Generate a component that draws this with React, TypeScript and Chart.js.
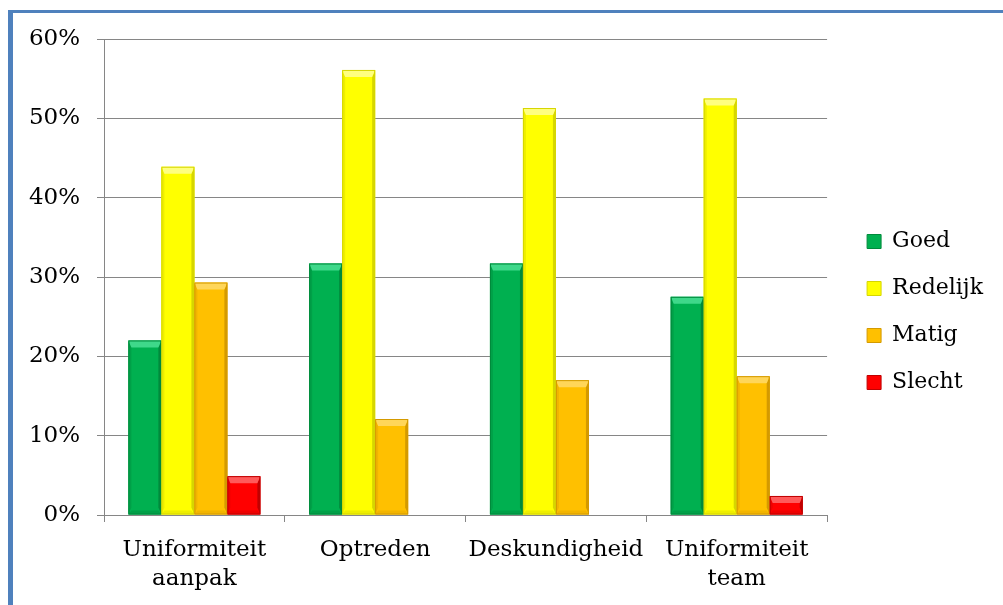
import React, { useEffect, useRef } from "react";
import { Chart, registerables } from "chart.js";

Chart.register(...registerables);

const categories: (string | string[])[] = [
  ["Uniformiteit", "aanpak"],
  "Optreden",
  "Deskundigheid",
  ["Uniformiteit", "team"],
];

const seriesNames = ["Goed", "Redelijk", "Matig", "Slecht"];

const goed = [22.0, 31.7, 31.7, 27.5];
const redelijk = [43.9, 56.1, 51.3, 52.5];
const matig = [29.3, 12.1, 17.0, 17.5];
const slecht = [4.9, 0, 0, 2.4];

const yTicks = [0, 10, 20, 30, 40, 50, 60];

const palettes = [
  { base: "#00B050", light: "#3FD88A", dark: "#008A3C", side: "#00A048" },
  { base: "#FFFF00", light: "#FFFF80", dark: "#D6D600", side: "#EEEE00" },
  { base: "#FFC000", light: "#FFD659", dark: "#D49A00", side: "#F2B400" },
  { base: "#FF0000", light: "#FF5A5A", dark: "#C00000", side: "#EE0000" },
];

const FONT = "'DejaVu Serif', serif";
const GRID = "#868686";

const legendShiftPlugin = {
  id: "legendShift",
  afterLayout(chart: any) {
    const l = chart.legend;
    if (!l) return;
    l.left += 15;
    l.right += 15;
    l.top -= 10;
    l.bottom -= 10;
  },
};

const bevelPlugin = {
  id: "bevel",
  afterDatasetsDraw(chart: any) {
    const ctx = chart.ctx;
    chart.data.datasets.forEach((_ds: any, di: number) => {
      const meta = chart.getDatasetMeta(di);
      if (meta.hidden) return;
      const pal = palettes[di];
      meta.data.forEach((bar: any) => {
        const { x, y, base, width } = bar.getProps(["x", "y", "base", "width"], true);
        const left = x - width / 2;
        const right = x + width / 2;
        const top = Math.min(y, base);
        const bottom = Math.max(y, base);
        const h = bottom - top;
        if (h < 1) return;
        const b = Math.min(7, h / 2, width / 3);
        const s = Math.min(3, width / 6);
        ctx.save();
        ctx.fillStyle = pal.side;
        ctx.beginPath();
        ctx.moveTo(left, top);
        ctx.lineTo(left + s, top + b);
        ctx.lineTo(left + s, bottom - b);
        ctx.lineTo(left, bottom);
        ctx.closePath();
        ctx.fill();
        ctx.fillStyle = pal.dark;
        ctx.beginPath();
        ctx.moveTo(right, top);
        ctx.lineTo(right - s, top + b);
        ctx.lineTo(right - s, bottom - b);
        ctx.lineTo(right, bottom);
        ctx.closePath();
        ctx.fill();
        ctx.fillStyle = pal.light;
        ctx.beginPath();
        ctx.moveTo(left, top);
        ctx.lineTo(right, top);
        ctx.lineTo(right - s, top + b);
        ctx.lineTo(left + s, top + b);
        ctx.closePath();
        ctx.fill();
        ctx.fillStyle = pal.side;
        ctx.beginPath();
        ctx.moveTo(left, bottom);
        ctx.lineTo(right, bottom);
        ctx.lineTo(right - s, bottom - Math.min(4, b));
        ctx.lineTo(left + s, bottom - Math.min(4, b));
        ctx.closePath();
        ctx.fill();
        ctx.strokeStyle = pal.dark;
        ctx.lineWidth = 1;
        ctx.strokeRect(left + 0.5, top + 0.5, width - 1, h - 1);
        ctx.restore();
      });
    });
  },
};

export default function App() {
  const ref = useRef<HTMLCanvasElement>(null);

  useEffect(() => {
    if (!ref.current) return;
    const values = [goed, redelijk, matig, slecht];
    const chart = new Chart(ref.current, {
      type: "bar",
      data: {
        labels: categories,
        datasets: seriesNames.map((name, i) => ({
          label: name,
          data: values[i],
          backgroundColor: palettes[i].base,
          borderColor: palettes[i].dark,
          borderWidth: 0,
          categoryPercentage: 0.73,
          barPercentage: 1.0,
        })),
      },
      options: {
        responsive: false,
        animation: false,
        layout: { padding: { top: 39, left: 0, right: 25, bottom: 0 } },
        plugins: {
          tooltip: { enabled: false },
          legend: {
            position: "right",
            labels: {
              color: "#000",
              font: { family: FONT, size: 22 },
              boxWidth: 14,
              boxHeight: 14,
              padding: 25,
              generateLabels: (c: any) =>
                c.data.datasets.map((ds: any, i: number) => ({
                  text: ds.label,
                  fillStyle: palettes[i].base,
                  strokeStyle: palettes[i].dark,
                  lineWidth: 1,
                  hidden: false,
                  datasetIndex: i,
                  fontColor: "#000",
                })),
            },
          },
        },
        scales: {
          x: {
            grid: {
              offset: true,
              drawOnChartArea: false,
              drawTicks: true,
              tickLength: 7,
              color: GRID,
            },
            border: { color: GRID },
            ticks: {
              color: "#000",
              font: { family: FONT, size: 23, lineHeight: 1.27 },
              padding: 13,
              maxRotation: 0,
              autoSkip: false,
            },
            afterFit: (s: any) => {
              s.height = 90;
            },
          },
          y: {
            min: 0,
            max: 60,
            afterBuildTicks: (s: any) => {
              s.ticks = yTicks.map((v) => ({ value: v }));
            },
            grid: { color: GRID, tickLength: 7, drawTicks: true },
            border: { color: GRID },
            ticks: {
              color: "#000",
              font: { family: FONT, size: 23 },
              padding: 17,
              callback: (v: any) => `${v}%`,
            },
            afterFit: (s: any) => {
              s.width = 104;
            },
          },
        },
      },
      plugins: [legendShiftPlugin, bevelPlugin],
    });
    return () => chart.destroy();
  }, []);

  return (
    <div
      style={{
        position: "absolute",
        left: 0,
        top: 0,
        width: 1003,
        height: 605,
        overflow: "hidden",
        background: "#fff",
      }}
    >
      <div
        style={{
          position: "absolute",
          left: 8,
          top: 10,
          width: 1003,
          height: 605,
          borderLeft: "5px solid #4F81BD",
          borderTop: "3px solid #4F81BD",
          boxSizing: "border-box",
        }}
      />
      <canvas
        ref={ref}
        width={1003}
        height={605}
        style={{ position: "absolute", left: 0, top: 0, width: 1003, height: 605 }}
      />
    </div>
  );
}
